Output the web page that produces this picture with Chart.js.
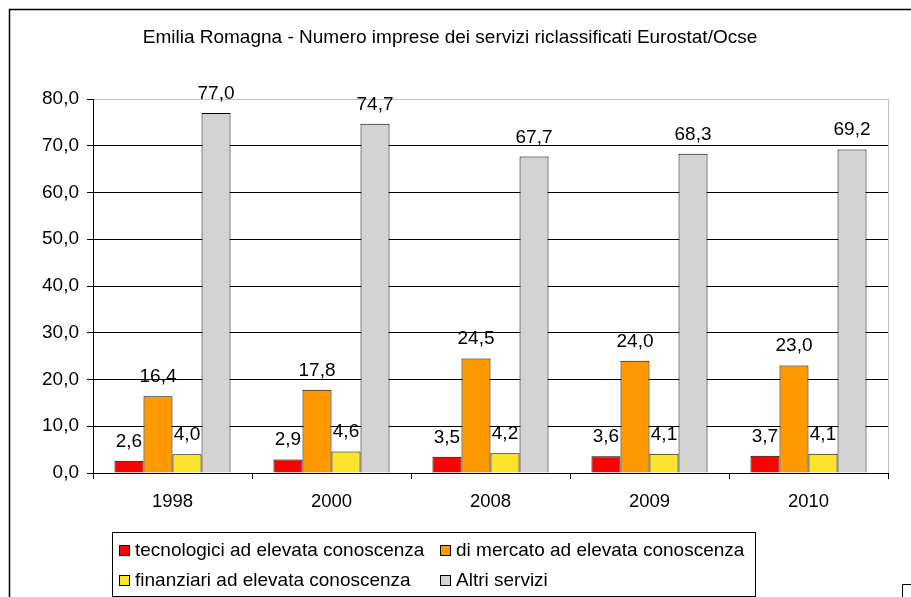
<!DOCTYPE html>
<html lang="it">

<head>
    <meta charset="UTF-8">
    <title>Emilia Romagna - Numero imprese dei servizi</title>
    <script src="https://cdn.jsdelivr.net/npm/chart.js"></script>
    <style>
        body { margin: 0; background: #fff; }
        #wrap { width: 911px; height: 597px; }
    </style>
</head>

<body>
    <div id="wrap">
        <canvas id="myChart" width="911" height="597"></canvas>
    </div>

    <script>
        // dati
        const categories = ['1998', '2000', '2008', '2009', '2010'];
        const tecnologici = [2.6, 2.9, 3.5, 3.6, 3.7];
        const mercato = [16.4, 17.8, 24.5, 24.0, 23.0];
        const finanziari = [4.0, 4.6, 4.2, 4.1, 4.1];
        const altri = [77.0, 74.7, 67.7, 68.3, 69.2];
        const seriesNames = [
            'tecnologici ad elevata conoscenza',
            'di mercato ad elevata conoscenza',
            'finanziari ad elevata conoscenza',
            'Altri servizi'
        ];
        const seriesColors = ['#FF0000', '#FF9900', '#FCE42C', '#D3D3D3'];
        const yMax = 80;
        const yStep = 10;
        const chartTitle = 'Emilia Romagna - Numero imprese dei servizi riclassificati Eurostat/Ocse';

        const FONT = '"Liberation Sans", Arial, sans-serif';

        function fmt(v) {
            return v.toFixed(1).replace('.', ',');
        }

        // titolo, etichette valori, legenda e cornice
        const extras = {
            id: 'extras',
            afterDraw(chart) {
                const ctx = chart.ctx;
                const area = chart.chartArea;
                ctx.save();

                // titolo
                ctx.fillStyle = '#000';
                ctx.font = '19px ' + FONT;
                ctx.textAlign = 'center';
                ctx.textBaseline = 'middle';
                ctx.fillText(chartTitle, 450, 38);

                // bordo destro area grafico
                ctx.strokeStyle = '#C0C0C0';
                ctx.lineWidth = 1;
                ctx.beginPath();
                ctx.moveTo(Math.round(area.right) + 0.5, area.top);
                ctx.lineTo(Math.round(area.right) + 0.5, area.bottom);
                ctx.stroke();

                // etichette sopra le barre
                ctx.textBaseline = 'alphabetic';
                chart.data.datasets.forEach((ds, i) => {
                    chart.getDatasetMeta(i).data.forEach((bar, j) => {
                        ctx.fillText(fmt(ds.data[j]), bar.x, bar.y - 14);
                    });
                });

                // legenda
                ctx.strokeStyle = '#000';
                ctx.strokeRect(112.5, 532.5, 643, 64);
                const cols = [119, 440];
                const rows = [550, 580];
                ctx.textAlign = 'left';
                ctx.textBaseline = 'middle';
                seriesNames.forEach((name, i) => {
                    const x = cols[i % 2];
                    const y = rows[Math.floor(i / 2)];
                    ctx.fillStyle = seriesColors[i];
                    ctx.fillRect(x, y - 5, 10, 10);
                    ctx.strokeRect(x + 0.5, y - 5 + 0.5, 10, 10);
                    ctx.fillStyle = '#000';
                    ctx.fillText(name, x + 16, y + 1);
                });

                // cornice esterna
                ctx.lineWidth = 1.5;
                ctx.beginPath();
                ctx.moveTo(9.5, 597);
                ctx.lineTo(9.5, 9.5);
                ctx.lineTo(911, 9.5);
                ctx.stroke();
                ctx.lineWidth = 1;
                ctx.beginPath();
                ctx.moveTo(902.5, 597);
                ctx.lineTo(902.5, 584.5);
                ctx.lineTo(911, 584.5);
                ctx.stroke();
                ctx.restore();
            }
        };

        const allSeries = [tecnologici, mercato, finanziari, altri];

        new Chart(document.getElementById('myChart'), {
            type: 'bar',
            data: {
                labels: categories,
                datasets: allSeries.map((d, i) => ({
                    label: seriesNames[i],
                    data: d,
                    backgroundColor: seriesColors[i],
                    borderColor: '#000',
                    borderWidth: 1,
                    categoryPercentage: 0.73,
                    barPercentage: 1.0
                }))
            },
            options: {
                responsive: false,
                animation: false,
                layout: { padding: { left: 0, right: 23, top: 99, bottom: 0 } },
                plugins: {
                    legend: { display: false },
                    tooltip: { enabled: false },
                    title: { display: false }
                },
                scales: {
                    x: {
                        afterFit(scale) { scale.height = 124; },
                        grid: {
                            drawOnChartArea: false,
                            drawTicks: true,
                            tickLength: 6,
                            color: '#000',
                            tickColor: '#000',
                            offset: true
                        },
                        border: { color: '#000', width: 1 },
                        ticks: {
                            color: '#000',
                            padding: 12,
                            font: { family: FONT, size: 18.5 }
                        }
                    },
                    y: {
                        min: 0,
                        max: yMax,
                        afterFit(scale) { scale.width = 93; },
                        grid: {
                            color: c => (c.tick && c.tick.value === yMax ? '#C0C0C0' : '#000'),
                            tickColor: '#000',
                            tickLength: 6
                        },
                        border: { color: '#000', width: 1 },
                        ticks: {
                            stepSize: yStep,
                            color: '#000',
                            padding: 8,
                            font: { family: FONT, size: 19 },
                            callback: v => fmt(v)
                        }
                    }
                }
            },
            plugins: [extras]
        });
    </script>
</body>

</html>
